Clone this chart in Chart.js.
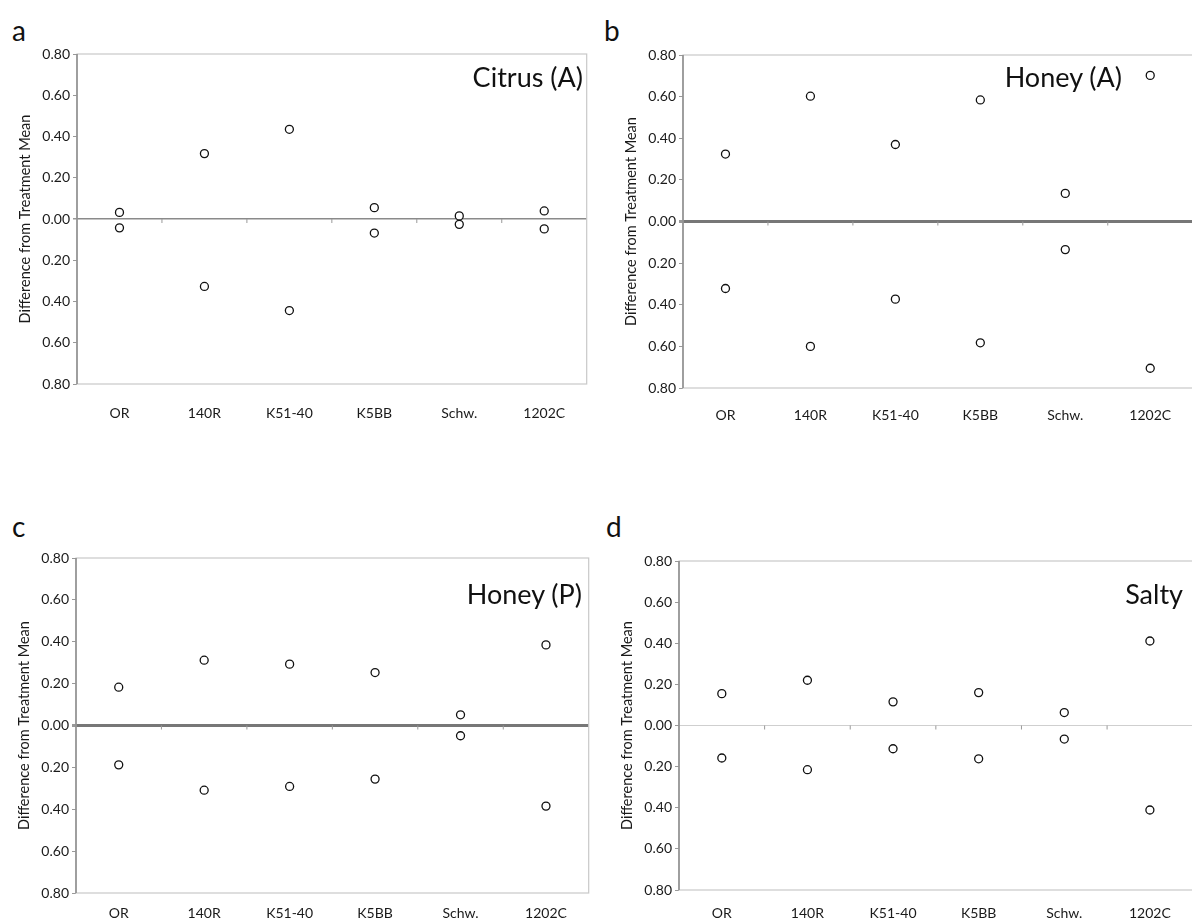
<!DOCTYPE html>
<html>
<head>
<meta charset="utf-8">
<script src="https://cdn.jsdelivr.net/npm/chart.js@4/dist/chart.umd.min.js"></script>
<style>
  body { margin: 0; width: 1192px; height: 922px; background: #fff; overflow: hidden; position: relative; font-family: Lato, "Open Sans", sans-serif; }
  .box { position: absolute; }
  .letter { position: absolute; font-size: 28px; color: #111; }
  .name { position: absolute; font-size: 27px; color: #111; text-align: right; white-space: nowrap; }
</style>
</head>
<body>
<div class="letter" style="left:12px;top:13px;">a</div>
<div class="letter" style="left:604px;top:13px;">b</div>
<div class="letter" style="left:12px;top:509px;">c</div>
<div class="letter" style="left:606px;top:509px;">d</div>

<div class="box" id="pa"><canvas id="chartA"></canvas></div>
<div class="box" id="pb"><canvas id="chartB"></canvas></div>
<div class="box" id="pc"><canvas id="chartC"></canvas></div>
<div class="box" id="pd"><canvas id="chartD"></canvas></div>

<div class="name" style="right:609px;top:60px;">Citrus (A)</div>
<div class="name" style="right:70px;top:60px;">Honey (A)</div>
<div class="name" style="right:610px;top:577px;">Honey (P)</div>
<div class="name" style="right:9px;top:577px;">Salty</div>

<script>
const rootstocks = ['OR', '140R', 'K51-40', 'K5BB', 'Schw.', '1202C'];
const yTicks = [-0.8, -0.6, -0.4, -0.2, 0, 0.2, 0.4, 0.6, 0.8];

const citrusHigh = [0.032, 0.317, 0.435, 0.055, 0.015, 0.039];
const citrusLow = [-0.043, -0.327, -0.444, -0.068, -0.026, -0.048];

const honeyAHigh = [0.324, 0.602, 0.370, 0.584, 0.135, 0.702];
const honeyALow = [-0.322, -0.600, -0.373, -0.583, -0.135, -0.705];

const honeyPHigh = [0.183, 0.312, 0.293, 0.253, 0.051, 0.385];
const honeyPLow = [-0.188, -0.309, -0.291, -0.256, -0.049, -0.385];

const saltyHigh = [0.155, 0.220, 0.115, 0.160, 0.063, 0.411];
const saltyLow = [-0.158, -0.215, -0.113, -0.162, -0.066, -0.411];

// frame, left axis and the little marks on the zero line
const framePlugin = {
    id: 'frame',
    afterDraw(chart, args, opts) {
        const { ctx, chartArea: a, scales } = chart;
        ctx.save();
        ctx.strokeStyle = '#c8c8c8';
        ctx.lineWidth = 1.2;
        ctx.strokeRect(a.left, a.top, a.right - a.left, a.bottom - a.top);
        ctx.strokeStyle = '#8a8a8a';
        ctx.lineWidth = 1.5;
        ctx.beginPath();
        ctx.moveTo(a.left, a.top);
        ctx.lineTo(a.left, a.bottom);
        ctx.stroke();
        const y0 = scales.y.getPixelForValue(0);
        ctx.strokeStyle = '#999';
        ctx.lineWidth = 1;
        for (let i = 0; i < rootstocks.length - 1; i++) {
            const xb = (scales.x.getPixelForValue(i) + scales.x.getPixelForValue(i + 1)) / 2;
            ctx.beginPath();
            ctx.moveTo(xb, y0);
            ctx.lineTo(xb, y0 + opts.mark);
            ctx.stroke();
        }
        ctx.restore();
    }
};

function makeChart(id, boxId, pos, high, low, zeroColor, zeroWidth, labelPad) {
    const box = document.getElementById(boxId);
    const axisW = 60;
    const padTop = 12;
    const xH = labelPad + 18;
    box.style.left = (pos.left - axisW) + 'px';
    box.style.top = (pos.top - padTop) + 'px';
    box.style.width = (pos.right - pos.left + axisW + 2) + 'px';
    box.style.height = (pos.bottom - pos.top + padTop + xH) + 'px';

    const pointStyle = {
        showLine: false,
        pointStyle: 'circle',
        pointRadius: 4,
        pointBorderWidth: 1.3,
        pointBorderColor: '#111',
        pointBackgroundColor: '#fff',
        borderColor: '#111',
        backgroundColor: '#fff'
    };

    return new Chart(document.getElementById(id), {
        type: 'line',
        data: {
            labels: rootstocks,
            datasets: [
                Object.assign({ label: 'high', data: high }, pointStyle),
                Object.assign({ label: 'low', data: low }, pointStyle)
            ]
        },
        options: {
            responsive: true,
            maintainAspectRatio: false,
            animation: false,
            layout: { padding: { top: padTop, right: 2, left: 0, bottom: 0 } },
            plugins: {
                legend: { display: false },
                tooltip: { enabled: false },
                frame: { mark: 4 }
            },
            scales: {
                x: {
                    type: 'category',
                    offset: true,
                    grid: { display: false, drawTicks: false },
                    border: { display: false },
                    ticks: {
                        color: '#1a1a1a',
                        padding: labelPad,
                        maxRotation: 0,
                        font: { family: 'Lato', size: 14 }
                    },
                    afterFit(scale) { scale.height = xH; }
                },
                y: {
                    min: -0.8,
                    max: 0.8,
                    afterBuildTicks(scale) {
                        scale.ticks = yTicks.map(v => ({ value: v }));
                    },
                    ticks: {
                        color: '#1a1a1a',
                        padding: 3,
                        font: { family: 'Lato', size: 14 },
                        callback: v => Math.abs(v).toFixed(2)
                    },
                    grid: {
                        drawTicks: true,
                        tickLength: 4,
                        tickColor: '#999',
                        color: ctx => ctx.tick && ctx.tick.value === 0 ? zeroColor : 'transparent',
                        lineWidth: ctx => ctx.tick && ctx.tick.value === 0 ? zeroWidth : 1
                    },
                    border: { display: false },
                    title: {
                        display: true,
                        text: 'Difference from Treatment Mean',
                        color: '#1a1a1a',
                        padding: { top: 0, bottom: 1 },
                        font: { family: 'Lato', size: 14.5 }
                    },
                    afterFit(scale) { scale.width = axisW; }
                }
            }
        },
        plugins: [framePlugin]
    });
}

makeChart('chartA', 'pa', { left: 77, top: 54, right: 590, bottom: 384 }, citrusHigh, citrusLow, '#8a8a8a', 1.5, 21);
makeChart('chartB', 'pb', { left: 683, top: 55, right: 1196, bottom: 388 }, honeyAHigh, honeyALow, '#777', 3, 19);
makeChart('chartC', 'pc', { left: 76, top: 558, right: 592, bottom: 893 }, honeyPHigh, honeyPLow, '#777', 3, 12);
makeChart('chartD', 'pd', { left: 679, top: 561, right: 1196, bottom: 890 }, saltyHigh, saltyLow, '#cfcfcf', 1, 15);
</script>
</body>
</html>
